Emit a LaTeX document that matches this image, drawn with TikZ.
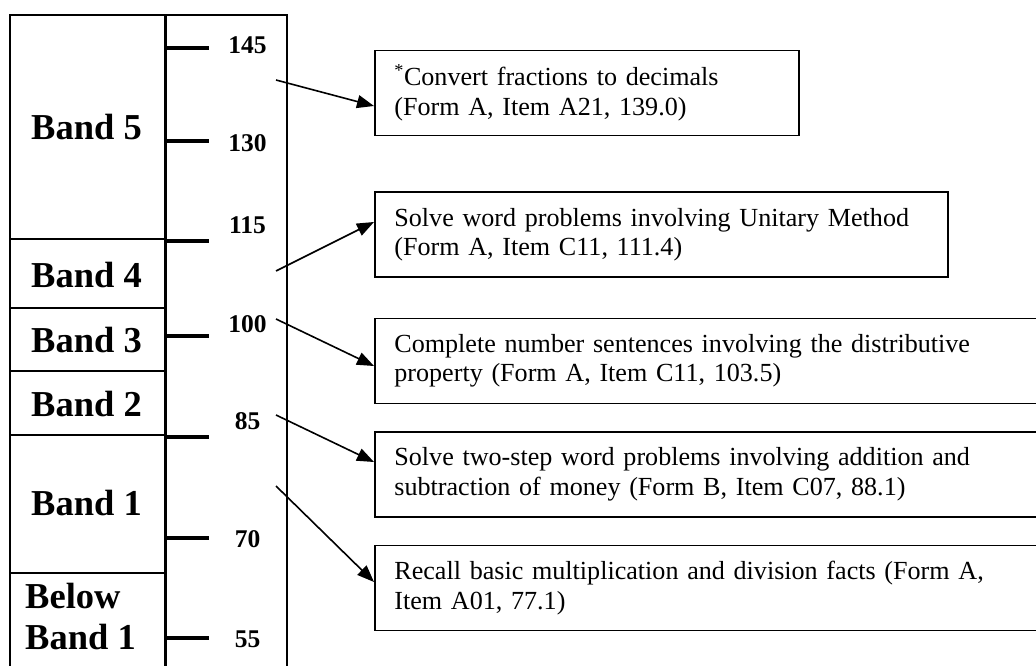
\documentclass[tikz,border=0pt]{standalone}
\usepackage{fontspec}
\setmainfont{Liberation Serif}
\usetikzlibrary{arrows.meta}
\tikzset{
  x=1pt, y=-1pt,
  frame/.style={line width=2pt},
  axis/.style={line width=3.5pt},
  tick/.style={line width=4pt},
  bandlbl/.style={anchor=base west, inner sep=0pt, font=\fontsize{36.5}{40}\selectfont\bfseries},
  numlbl/.style={anchor=base, inner sep=0pt, font=\fontsize{25.5}{28}\selectfont\bfseries},
  itembox/.style={draw, line width=1.8pt, anchor=west, inner xsep=19.5pt, inner ysep=0pt,
    align=left, minimum height=85pt, font=\fontsize{26.1}{29.5}\selectfont},
  arr/.style={line width=1.6pt, -{Triangle[length=17pt,width=13pt]}},
}
\begin{document}
\begin{tikzpicture}
\useasboundingbox (0,0) rectangle (1036,666);
\clip (0,0) rectangle (1036,666);
% outer frame
\draw[frame] (10,680) -- (10,15) -- (287,15) -- (287,680);
\draw[axis] (165.5,15) -- (165.5,680);
% band separators
\foreach \yy in {239,308,371,435,573}
  \draw[frame] (10,\yy) -- (165,\yy);
% ticks
\foreach \yy in {48,141,241,336,437,538,638}
  \draw[tick] (166,\yy) -- (209,\yy);
% number labels
\node[numlbl] (n145) at (247.5,53.5) {145};
\node[numlbl] (n130) at (247.5,151.5) {130};
\node[numlbl] (n115) at (247.5,233.5) {115};
\node[numlbl] (n100) at (247.5,332.5) {100};
\node[numlbl] (n85) at (247.5,429.5) {85};
\node[numlbl] (n70) at (247.5,547.5) {70};
\node[numlbl] (n55) at (247.5,647.5) {55};
% band labels
\node[bandlbl] (band5) at (31,140) {Band 5};
\node[bandlbl] (band4) at (31,287) {Band 4};
\node[bandlbl] (band3) at (31,352) {Band 3};
\node[bandlbl] (band2) at (31,416) {Band 2};
\node[bandlbl] (band1) at (31,515) {Band 1};
\node[bandlbl] (below) at (25,608) {Below};
\node[bandlbl] (belowb) at (25,649) {Band 1};
% item boxes
\node[itembox, text width=385pt] (b1) at (374,93)
  {\textsuperscript{*}Convert fractions to decimals\\(Form A, Item A21, 139.0)};
\node[itembox, text width=534pt] (b2) at (374,234.5)
  {Solve word problems involving Unitary Method\\(Form A, Item C11, 111.4)};
\node[itembox, text width=640pt] (b3) at (374,361)
  {Complete number sentences involving the distributive\\property (Form A, Item C11, 103.5)};
\node[itembox, text width=640pt] (b4) at (374,474.5)
  {Solve two-step word problems involving addition and\\subtraction of money (Form B, Item C07, 88.1)};
\node[itembox, text width=640pt] (b5) at (374,588)
  {Recall basic multiplication and division facts (Form A,\\Item A01, 77.1)};
% arrow starts
\coordinate (s1) at (276,80);
\coordinate (s2) at (276,271);
\coordinate (s3) at (276,319);
\coordinate (s4) at (276,415);
\coordinate (s5) at (276,486);
\draw[arr] (s1) -- ([yshift=-13pt]b1.west);
\draw[arr] (s2) -- ([yshift=12.5pt]b2.west);
\draw[arr] (s3) -- ([yshift=-5pt]b3.west);
\draw[arr] (s4) -- ([yshift=12.5pt]b4.west);
\draw[arr] (s5) -- ([yshift=6pt]b5.west);
\end{tikzpicture}
\end{document}
